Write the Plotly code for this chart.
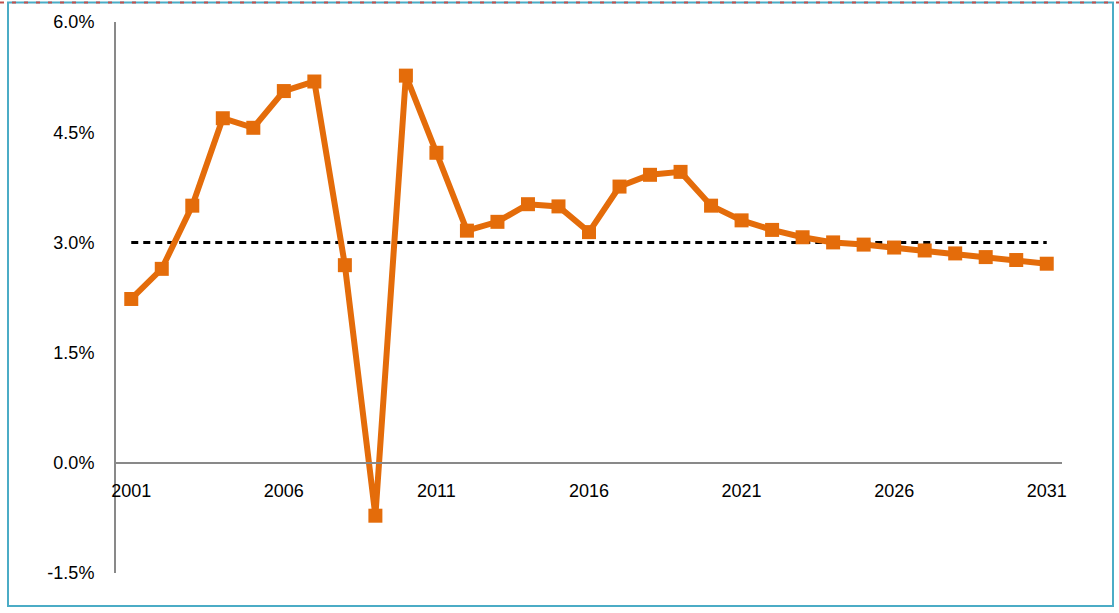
import plotly.graph_objects as go

years = list(range(2001, 2032))
growth = [2.23, 2.64, 3.50, 4.69, 4.56, 5.06, 5.19, 2.69, -0.72, 5.27,
          4.22, 3.16, 3.28, 3.52, 3.49, 3.14, 3.76, 3.92, 3.96, 3.50,
          3.30, 3.17, 3.07, 3.00, 2.97, 2.93, 2.89, 2.85, 2.80, 2.76, 2.71]
target = [3.0] * len(years)
xtick_vals = [2001, 2006, 2011, 2016, 2021, 2026, 2031]
xtick_text = [str(v) for v in xtick_vals]
ytick_vals = [-1.5, 0.0, 1.5, 3.0, 4.5, 6.0]
ytick_text = ["-1.5%", "0.0%", "1.5%", "3.0%", "4.5%", "6.0%"]

font = dict(family="Liberation Sans, Arial, sans-serif", size=18, color="#000000")
axis_grey = "#898989"

fig = go.Figure()
fig.add_trace(go.Scatter(
    x=years, y=target, mode="lines",
    line=dict(color="#000000", width=3, dash="7px,5px"),
    hoverinfo="skip", showlegend=False,
))
fig.add_trace(go.Scatter(
    x=years, y=growth, mode="lines+markers",
    line=dict(color="#E46C0A", width=6),
    marker=dict(symbol="square", size=14, color="#E46C0A", line=dict(width=0)),
    showlegend=False,
))

ymin, ymax = -1.5, 6.0
fig.update_layout(
    width=1119, height=613,
    margin=dict(l=116, r=57, t=22, b=40),
    paper_bgcolor="white", plot_bgcolor="white",
    font=font,
    xaxis=dict(
        range=[2000.5, 2031.5],
        tickvals=xtick_vals, ticktext=xtick_text,
        showgrid=False, zeroline=False,
        showline=True, linecolor=axis_grey, linewidth=2,
        ticks="", anchor="free",
        position=(0 - ymin) / (ymax - ymin),
        ticklabelstandoff=12,
        tickfont=font,
    ),
    yaxis=dict(
        range=[ymin, ymax],
        tickvals=ytick_vals, ticktext=ytick_text,
        showgrid=False, zeroline=False,
        showline=True, linecolor=axis_grey, linewidth=2,
        ticks="", ticklabelstandoff=16,
        tickfont=font,
    ),
    shapes=[
        dict(type="rect", xref="paper", yref="paper", x0=0, x1=1, y0=0, y1=1,
             layer="below", line=dict(width=0)),
    ],
)

# outer border (teal) and dotted red top edge, in pixel-relative paper coords
W, H = 1119, 613
pw, ph = W - 116 - 57, H - 22 - 40
def px(x):
    return (x - 116) / pw
def py(y):
    return (H - 40 - y) / ph
fig.add_shape(type="rect", xref="paper", yref="paper",
              x0=px(8), x1=px(1113), y0=py(606), y1=py(2.5),
              line=dict(color="#4BACC6", width=2), layer="above")
fig.add_shape(type="line", xref="paper", yref="paper",
              x0=px(0), x1=px(1119), y0=py(2.5), y1=py(2.5),
              line=dict(color="#C0504D", width=2, dash="4px,8px"), layer="above")

fig.write_html("out.html")
